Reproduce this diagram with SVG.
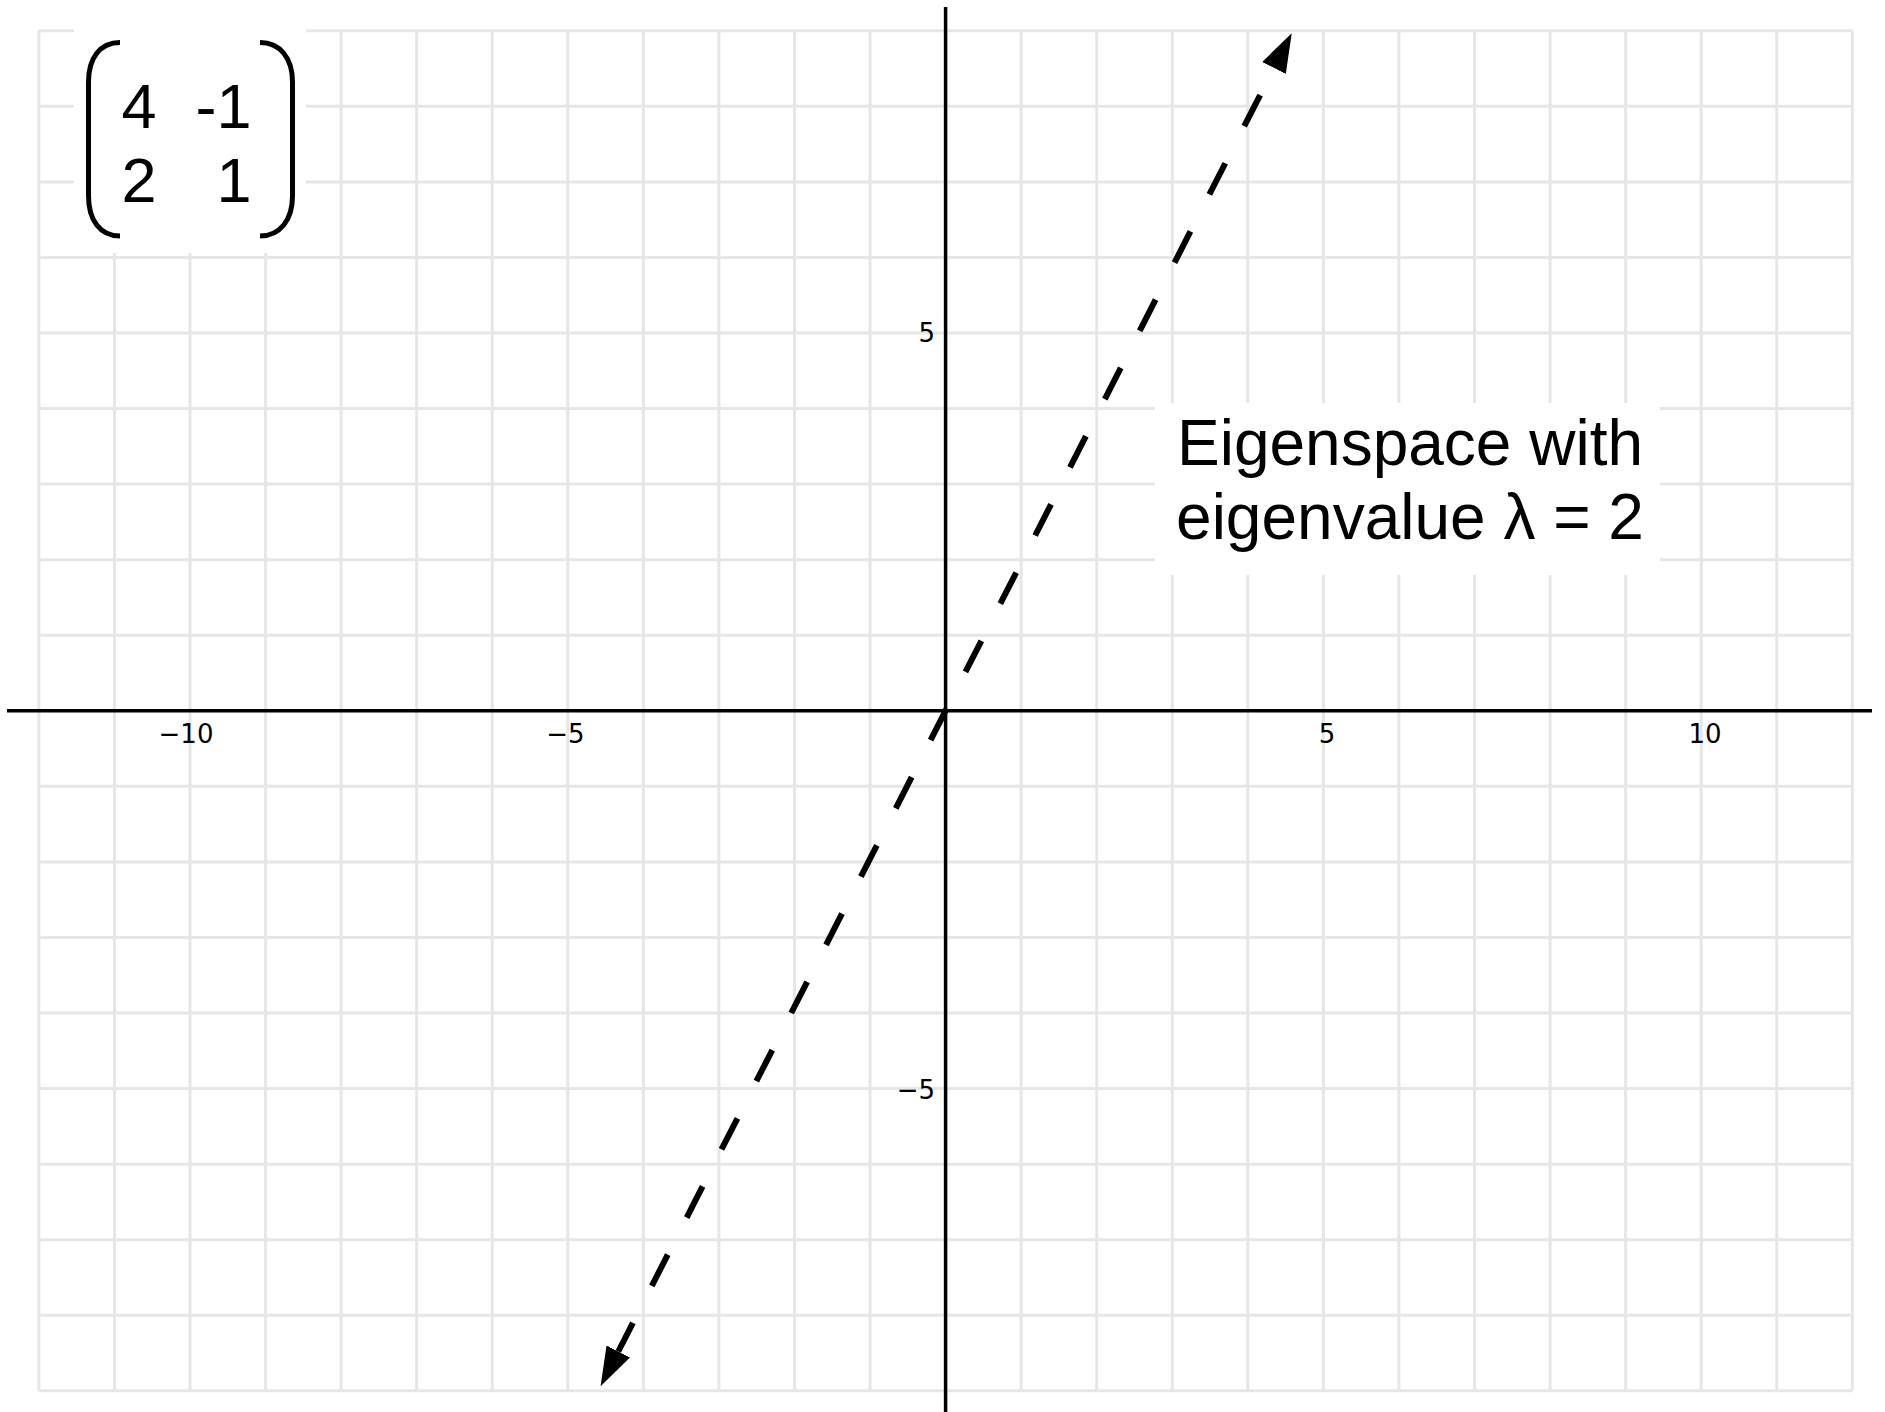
<svg xmlns="http://www.w3.org/2000/svg" width="1885" height="1412" viewBox="0 0 1885 1412">
  <style>
    .grid { stroke: #e6e6e6; stroke-width: 3; fill: none; }
    .axis { stroke: #000; stroke-width: 3.5; fill: none; }
    .tick { font-family: "DejaVu Sans", sans-serif; font-size: 26px; fill: #000; }
    .big { font-family: "Liberation Sans", Arial, sans-serif; font-size: 63px; fill: #000; }
    .label { font-family: "Liberation Sans", Arial, sans-serif; font-size: 64px; fill: #000; }
    .bracket { stroke: #000; stroke-width: 5; fill: none; stroke-linecap: butt; }
    .eigen { stroke: #000; stroke-width: 6; fill: none; stroke-dasharray: 35 41.6; stroke-dashoffset: 2.9; }
  </style>
  <defs>
    <marker id="arrow" markerUnits="userSpaceOnUse" viewBox="0 0 39 26.4" refX="0" refY="13.2" markerWidth="39" markerHeight="26.4" orient="auto-start-reverse">
      <path d="M0,0 L39,13.2 L0,26.4 Z" fill="#000"/>
    </marker>
  </defs>
  <rect width="1885" height="1412" fill="#fff"/>
  <g id="grid">
    <path class="grid" d="M38.88,30.76V1390.84 M114.44,30.76V1390.84 M190,30.76V1390.84 M265.56,30.76V1390.84 M341.12,30.76V1390.84 M416.68,30.76V1390.84 M492.24,30.76V1390.84 M567.8,30.76V1390.84 M643.36,30.76V1390.84 M718.92,30.76V1390.84 M794.48,30.76V1390.84 M870.04,30.76V1390.84 M1021.16,30.76V1390.84 M1096.72,30.76V1390.84 M1172.28,30.76V1390.84 M1247.84,30.76V1390.84 M1323.4,30.76V1390.84 M1398.96,30.76V1390.84 M1474.52,30.76V1390.84 M1550.08,30.76V1390.84 M1625.64,30.76V1390.84 M1701.2,30.76V1390.84 M1776.76,30.76V1390.84 M1852.32,30.76V1390.84"/>
    <path class="grid" d="M38.88,30.76H1852.32 M38.88,106.32H1852.32 M38.88,181.88H1852.32 M38.88,257.44H1852.32 M38.88,333H1852.32 M38.88,408.56H1852.32 M38.88,484.12H1852.32 M38.88,559.68H1852.32 M38.88,635.24H1852.32 M38.88,786.36H1852.32 M38.88,861.92H1852.32 M38.88,937.48H1852.32 M38.88,1013.04H1852.32 M38.88,1088.6H1852.32 M38.88,1164.16H1852.32 M38.88,1239.72H1852.32 M38.88,1315.28H1852.32 M38.88,1390.84H1852.32"/>
  </g>
  <g id="axes">
    <line class="axis" x1="7" y1="710.8" x2="1872" y2="710.8"/>
    <line class="axis" x1="945.6" y1="7" x2="945.6" y2="1412"/>
    <text class="tick" x="186" y="742.5" text-anchor="middle">−10</text>
    <text class="tick" x="565.5" y="742.5" text-anchor="middle">−5</text>
    <text class="tick" x="1327" y="742.5" text-anchor="middle">5</text>
    <text class="tick" x="1705" y="742.5" text-anchor="middle">10</text>
    <text class="tick" x="935" y="342.3" text-anchor="end">5</text>
    <text class="tick" x="935" y="1099.3" text-anchor="end">−5</text>
  </g>
  <g id="matrix">
    <rect x="74" y="18" width="232" height="235" fill="#fff"/>
    <path class="bracket" d="M120,42.5 C100,42.5 88.5,58 88.5,82 L88.5,196 C88.5,220 100,236 120,236"/>
    <path class="bracket" d="M260,42.5 C280,42.5 292.5,58 292.5,82 L292.5,196 C292.5,220 280,236 260,236"/>
    <text class="big" x="139" y="128" text-anchor="middle">4</text>
    <text class="big" x="251.5" y="128" text-anchor="end">-1</text>
    <text class="big" x="139" y="202" text-anchor="middle">2</text>
    <text class="big" x="251.5" y="202" text-anchor="end">1</text>
  </g>
  <g id="connectors">
    <path id="eigenspace-line" class="eigen" d="M618.3,1351.5 L1274,67.9" marker-start="url(#arrow)" marker-end="url(#arrow)"/>
  </g>
  <g id="label">
    <rect x="1155" y="403" width="505" height="172" fill="#fff"/>
    <text class="label" x="1410" y="465" text-anchor="middle">Eigenspace with</text>
    <text class="label" x="1410" y="539.3" text-anchor="middle">eigenvalue λ = 2</text>
  </g>
</svg>
